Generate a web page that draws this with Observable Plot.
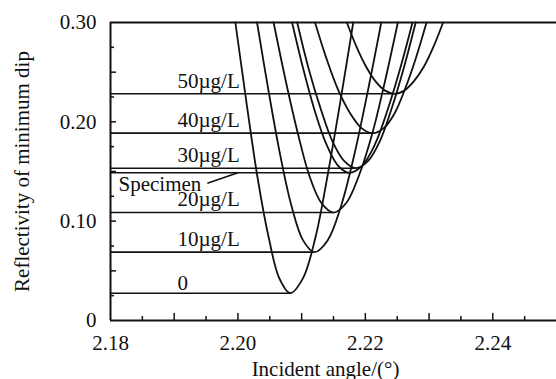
<!DOCTYPE html>
<html><head><meta charset="utf-8">
<script src="https://cdn.jsdelivr.net/npm/d3@7"></script>
<script src="https://cdn.jsdelivr.net/npm/@observablehq/plot@0.6"></script>
<style>
html,body{margin:0;padding:0;background:#fff;}
svg{display:block;}
svg, svg text { font-family: "Liberation Serif", "Times New Roman", serif !important; }
</style></head><body><div id="chart"></div>
<script>
// ---- data ----
const seriesNames = ["0", "10µg/L", "20µg/L", "Specimen", "30µg/L", "40µg/L", "50µg/L"];
const minAngle = [2.2082, 2.2120, 2.2150, 2.2175, 2.2185, 2.2212, 2.2246];
const minReflectivity = [0.0275, 0.0688, 0.1087, 0.1487, 0.1533, 0.1886, 0.2282];

const curveAngle = [
  [2.1996, 2.2013, 2.2030, 2.2048, 2.2065, 2.2082, 2.2102, 2.2122, 2.2141, 2.2161, 2.2181],
  [2.2030, 2.2048, 2.2066, 2.2084, 2.2102, 2.2120, 2.2141, 2.2162, 2.2183, 2.2204, 2.2225],
  [2.2056, 2.2075, 2.2094, 2.2112, 2.2131, 2.2150, 2.2170, 2.2190, 2.2211, 2.2231, 2.2251],
  [2.2085, 2.2103, 2.2121, 2.2139, 2.2157, 2.2175, 2.2195, 2.2215, 2.2234, 2.2254, 2.2274],
  [2.2093, 2.2111, 2.2130, 2.2148, 2.2167, 2.2185, 2.2204, 2.2223, 2.2241, 2.2260, 2.2279],
  [2.2121, 2.2139, 2.2157, 2.2176, 2.2194, 2.2212, 2.2229, 2.2246, 2.2262, 2.2279, 2.2296],
  [2.2171, 2.2186, 2.2201, 2.2216, 2.2231, 2.2246, 2.2261, 2.2276, 2.2292, 2.2307, 2.2322]
];
const curveReflectivity = [
  [0.300, 0.2214, 0.1470, 0.0845, 0.0424, 0.0275, 0.0424, 0.0845, 0.1470, 0.2214, 0.300],
  [0.300, 0.2313, 0.1678, 0.1155, 0.0809, 0.0688, 0.0809, 0.1155, 0.1678, 0.2313, 0.300],
  [0.300, 0.2414, 0.1885, 0.1460, 0.1183, 0.1087, 0.1183, 0.1460, 0.1885, 0.2414, 0.300],
  [0.300, 0.2521, 0.2102, 0.1772, 0.1560, 0.1487, 0.1560, 0.1772, 0.2102, 0.2521, 0.300],
  [0.300, 0.2535, 0.2129, 0.1809, 0.1604, 0.1533, 0.1604, 0.1809, 0.2129, 0.2535, 0.300],
  [0.300, 0.2636, 0.2326, 0.2087, 0.1937, 0.1886, 0.1937, 0.2087, 0.2326, 0.2636, 0.300],
  [0.300, 0.2757, 0.2557, 0.2407, 0.2314, 0.2282, 0.2314, 0.2407, 0.2557, 0.2757, 0.300]
];

const xTickValues = [2.18, 2.20, 2.22, 2.24];
const xTickLabels = ["2.18", "2.20", "2.22", "2.24"];
const xMajorTicks = [2.19, 2.20, 2.21, 2.22, 2.23, 2.24];
const xMinorTicks = [2.185, 2.195, 2.205, 2.215, 2.225, 2.235, 2.245];
const yTickValues = [0, 0.10, 0.20, 0.30];
const yTickLabels = ["0", "0.10", "0.20", "0.30"];
const yMajorTicks = [0.05, 0.10, 0.15, 0.20, 0.25];
const yMinorTicks = [0.025, 0.075, 0.125, 0.175, 0.225, 0.275];
const xTitle = "Incident angle/(°)";
const yTitle = "Reflectivity of minimum dip";

// ---- tables for Plot ----
const points = curveAngle.flatMap((xs, i) =>
  xs.map((x, j) => ({series: seriesNames[i], angle: x, refl: curveReflectivity[i][j]})));
const minima = seriesNames.map((s, i) => ({series: s, angle: minAngle[i], refl: minReflectivity[i]}));

const ink = "#111";
const font = "'Liberation Serif', 'Times New Roman', serif";

const chart = Plot.plot({
  width: 556,
  height: 379,
  marginLeft: 110,
  marginRight: 0,
  marginTop: 22,
  marginBottom: 59,
  style: {fontFamily: font, fontSize: "21px", color: ink, background: "#fff", overflow: "visible"},
  x: {domain: [2.18, 2.25], axis: null},
  y: {domain: [0, 0.30], axis: null},
  marks: [
    Plot.line(points, {x: "angle", y: "refl", z: "series", curve: "catmull-rom", stroke: ink, strokeWidth: 1.8}),
    Plot.ruleY(minima, {y: "refl", x1: 2.18, x2: "angle", stroke: ink, strokeWidth: 1.6}),
    // frame
    Plot.ruleX([2.18], {stroke: ink, strokeWidth: 2}),
    Plot.ruleY([0, 0.30], {stroke: ink, strokeWidth: 2}),
    // inward ticks
    Plot.axisX(xMinorTicks, {tickSize: -4, tickFormat: () => "", label: null, stroke: ink, strokeWidth: 1.5}),
    Plot.axisX(xMajorTicks, {tickSize: -7, tickFormat: () => "", label: null, stroke: ink, strokeWidth: 1.5}),
    Plot.axisY(yMinorTicks, {tickSize: -4, tickFormat: () => "", label: null, stroke: ink, strokeWidth: 1.5}),
    Plot.axisY(yMajorTicks, {tickSize: -6, tickFormat: () => "", label: null, stroke: ink, strokeWidth: 1.5}),
    // tick labels
    Plot.axisX(xTickValues, {tickSize: 0, tickPadding: 15, label: null, fill: ink,
      tickFormat: d => xTickLabels[xTickValues.indexOf(d)]}),
    Plot.axisY(yTickValues, {tickSize: 0, tickPadding: 14, label: null, fill: ink,
      tickFormat: d => yTickLabels[yTickValues.indexOf(d)]}),
    // curve labels
    Plot.text(minima.filter(d => d.series !== "Specimen" && d.series !== "0"),
      {y: "refl", text: "series", frameAnchor: "left", dx: 67, dy: -13, textAnchor: "start", lineAnchor: "middle", fill: ink}),
    Plot.text(minima.filter(d => d.series === "0"),
      {y: "refl", text: "series", frameAnchor: "left", dx: 67, dy: -10, textAnchor: "start", lineAnchor: "middle", fill: ink}),
    Plot.text(minima.filter(d => d.series === "Specimen"),
      {y: "refl", text: "series", frameAnchor: "left", dx: 8, dy: 11, textAnchor: "start", lineAnchor: "middle", fill: ink}),
    Plot.link(minima.filter(d => d.series === "Specimen"),
      {x1: 2.1952, y1: d => d.refl - 0.0105, x2: 2.2000, y2: "refl", stroke: ink, strokeWidth: 1.6}),
    // axis titles
    Plot.text([yTitle], {text: d => d, frameAnchor: "left", rotate: -90, dx: -88, textAnchor: "middle", lineAnchor: "middle", fill: ink}),
    Plot.text([xTitle], {text: d => d, frameAnchor: "bottom", dy: 49, dx: -8, textAnchor: "middle", lineAnchor: "middle", fill: ink})
  ]
});
document.getElementById("chart").appendChild(chart);
</script>
</body></html>
